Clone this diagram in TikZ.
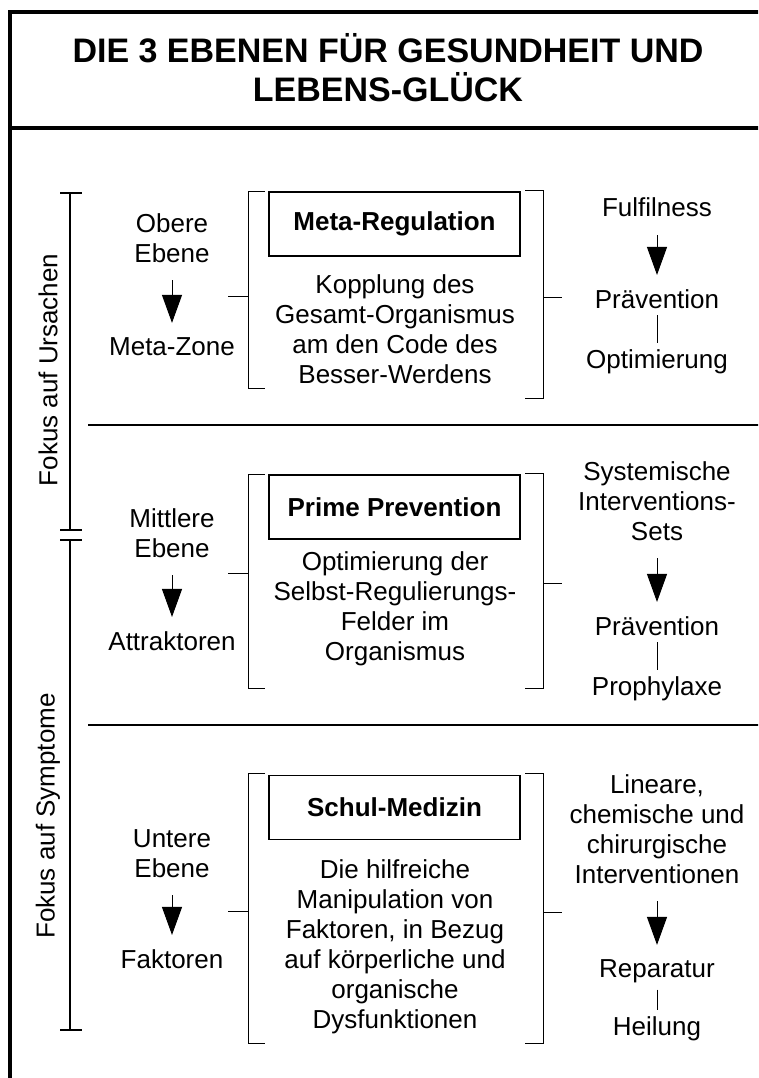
\documentclass[tikz,border=0pt]{standalone}
\usepackage{fontspec}
\setmainfont{Liberation Sans}
\usepackage{tikz}
\usetikzlibrary{arrows, arrows.meta, positioning, calc}
\tikzstyle{txt} = [inner sep=0pt,
align=center,
anchor=base,
font=\fontsize{26}{30}\selectfont]
\tikzstyle{headline} = [inner sep=0pt,
align=center,
anchor=base,
font=\fontsize{34}{39.5}\selectfont\bfseries]
\tikzstyle{level} = [rectangle,
minimum width=251pt,
minimum height=64pt,
text centered,
draw=black, line width=1.5pt,
font=\fontsize{26}{30}\selectfont\bfseries]
\tikzstyle{arrow} = [line width=1pt, -{Triangle[length=28pt,width=20pt]},
shorten <=18pt, shorten >=14pt]
\tikzstyle{link} = [line width=1pt, shorten <=7pt, shorten >=6pt]
\tikzstyle{bracket} = [line width=1pt]
\tikzstyle{focus} = [line width=1.5pt]

\begin{document}
\begin{tikzpicture}[x=1pt, y=-1pt]
            \useasboundingbox (0,0) rectangle (758,1078);
            \clip (0,0) rectangle (758,1078);

            \draw [line width=4pt] (10,1100) -- (10,12) -- (790,12);
            \draw [line width=4pt] (10,128) -- (790,128);
            \node (title) [headline] at (388,102) {DIE 3 EBENEN FÜR GESUNDHEIT UND\\LEBENS-GLÜCK};

            \draw [line width=2pt] (88,425) -- (790,425);
            \draw [line width=2pt] (88,725) -- (790,725);

            \draw [focus] (60,193) -- (82,193) (70,193) -- (70,530) (60,530) -- (82,530);
            \draw [focus] (60,540) -- (82,540) (70,540) -- (70,1030) (60,1030) -- (82,1030);
            \node (fu) [txt, anchor=center, rotate=90] at (48,370) {Fokus auf Ursachen};
            \node (fs) [txt, anchor=center, rotate=90] at (48,816) {Fokus auf Symptome};

            % obere Ebene
            \node (ob) [txt] at (172,262) {Obere\\Ebene};
            \node (mz) [txt] at (172,355) {Meta-Zone};
            \draw [arrow] (ob) -- (mz);
            \draw [bracket] (265,192) -- (248,192) -- (248,388) -- (265,388) (228,296) -- (248,296);
            \node (meta) [level] at (394.5,224) {Meta-Regulation};
            \node (d1) [txt] at (395,383) {Kopplung des\\Gesamt-Organismus\\am den Code des\\Besser-Werdens};
            \draw [bracket] (525,191) -- (543,191) -- (543,398) -- (525,398) (543,297) -- (562,297);
            \node (ff) [txt] at (657,216.7) {Fulfilness};
            \node (pv1) [txt] at (657,308) {Prävention};
            \node (op) [txt] at (657,368) {Optimierung};
            \draw [arrow] (ff) -- (pv1);
            \draw [link] (pv1) -- (op);

            % mittlere Ebene
            \node (mi) [txt] at (172,557) {Mittlere\\Ebene};
            \node (at) [txt] at (172,650) {Attraktoren};
            \draw [arrow] (mi) -- (at);
            \draw [bracket] (265,474) -- (248,474) -- (248,688) -- (265,688) (228,573) -- (248,573);
            \node (prime) [level] at (394.5,507) {Prime Prevention};
            \node (d2) [txt] at (395,660) {Optimierung der\\Selbst-Regulierungs-\\Felder im\\Organismus};
            \draw [bracket] (525,473) -- (543,473) -- (543,688) -- (525,688) (543,583) -- (562,583);
            \node (sy) [txt] at (657,540) {Systemische\\Interventions-\\Sets};
            \node (pv2) [txt] at (657,635) {Prävention};
            \node (ph) [txt] at (657,695) {Prophylaxe};
            \draw [arrow] (sy) -- (pv2);
            \draw [link] (pv2) -- (ph);

            % untere Ebene
            \node (un) [txt] at (172,877) {Untere\\Ebene};
            \node (fa) [txt] at (172,968) {Faktoren};
            \draw [arrow] (un) -- (fa);
            \draw [bracket] (265,773) -- (248,773) -- (248,1043) -- (265,1043) (228,911) -- (248,911);
            \node (schul) [level] at (394.5,807.5) {Schul-Medizin};
            \node (d3) [txt] at (395,1028) {Die hilfreiche\\Manipulation von\\Faktoren, in Bezug\\auf körperliche und\\organische\\Dysfunktionen};
            \draw [bracket] (525,773) -- (543,773) -- (543,1043) -- (525,1043) (543,912) -- (562,912);
            \node (li) [txt] at (657,883) {Lineare,\\chemische und\\chirurgische\\Interventionen};
            \node (re) [txt] at (657,977) {Reparatur};
            \node (he) [txt] at (657,1035) {Heilung};
            \draw [arrow] (li) -- (re);
            \draw [link] (re) -- (he);
        \end{tikzpicture}
\end{document}
